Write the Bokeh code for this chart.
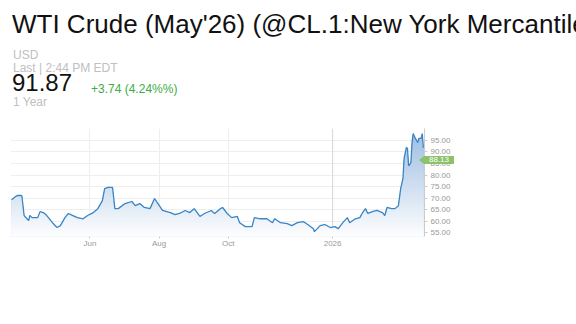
import numpy as np
import pandas as pd
from bokeh.plotting import figure
from bokeh.layouts import column
from bokeh.models import Range1d, FixedTicker, NumeralTickFormatter, Span, Div
from bokeh.embed import file_html
from bokeh.resources import INLINE

# ---------------- data ----------------
title_text = "WTI Crude (May'26) (@CL.1:New York Mercantile Exchange)"
currency_text = "USD"
last_text = "Last | 2:44 PM EDT"
last_price_text = "91.87"
change_text = "+3.74 (4.24%%)"
period_text = "1 Year"

dates = [
    "2025-03-24", "2025-03-27", "2025-03-29", "2025-04-01", "2025-04-02", "2025-04-04",
    "2025-04-08", "2025-04-09", "2025-04-11", "2025-04-16", "2025-04-18", "2025-04-21",
    "2025-04-24", "2025-04-29", "2025-05-03", "2025-05-06", "2025-05-10", "2025-05-13",
    "2025-05-17", "2025-05-21", "2025-05-26", "2025-05-30", "2025-06-04", "2025-06-08",
    "2025-06-12", "2025-06-14", "2025-06-17", "2025-06-21", "2025-06-23", "2025-06-26",
    "2025-07-02", "2025-07-08", "2025-07-11", "2025-07-15", "2025-07-19", "2025-07-24",
    "2025-07-28", "2025-07-31", "2025-08-04", "2025-08-11", "2025-08-15", "2025-08-19",
    "2025-08-24", "2025-08-28", "2025-09-01", "2025-09-06", "2025-09-10", "2025-09-16",
    "2025-09-19", "2025-09-24", "2025-09-26", "2025-09-30", "2025-10-04", "2025-10-09",
    "2025-10-11", "2025-10-16", "2025-10-22", "2025-10-24", "2025-10-29", "2025-11-04",
    "2025-11-09", "2025-11-11", "2025-11-16", "2025-11-22", "2025-11-26", "2025-12-01",
    "2025-12-06", "2025-12-10", "2025-12-15", "2025-12-16", "2025-12-21", "2025-12-25",
    "2025-12-30", "2026-01-03", "2026-01-06", "2026-01-10", "2026-01-14", "2026-01-16",
    "2026-01-21", "2026-01-25", "2026-01-27", "2026-01-30", "2026-02-01", "2026-02-05",
    "2026-02-09", "2026-02-14", "2026-02-16", "2026-02-18", "2026-02-22", "2026-02-25",
    "2026-02-28", "2026-03-02", "2026-03-04", "2026-03-05", "2026-03-07", "2026-03-08",
    "2026-03-09", "2026-03-11", "2026-03-12", "2026-03-13", "2026-03-15", "2026-03-17",
    "2026-03-18", "2026-03-20", "2026-03-21", "2026-03-22",
]
prices = [
    69.3, 70.5, 71.1, 71.2, 71.0, 62.4,
    60.2, 62.4, 61.5, 61.5, 64.1, 63.7,
    62.4, 59.3, 57.2, 58.0, 61.5, 63.3,
    62.4, 61.5, 61.0, 62.4, 63.7, 65.4,
    68.9, 74.1, 74.6, 74.6, 65.4, 65.4,
    67.6, 68.5, 66.7, 67.6, 65.9, 65.4,
    69.8, 67.6, 64.6, 63.7, 62.8, 63.3,
    64.6, 63.7, 65.4, 62.0, 63.3, 64.6,
    63.3, 65.4, 65.9, 63.3, 61.5, 62.0,
    59.3, 57.6, 57.6, 61.5, 61.0, 61.0,
    59.3, 61.0, 59.3, 58.9, 58.0, 59.3,
    59.8, 58.5, 56.7, 55.4, 58.0, 58.5,
    57.2, 57.6, 56.7, 59.3, 61.5, 59.3,
    61.0, 61.5, 63.3, 65.4, 63.3, 64.1,
    64.6, 63.7, 62.4, 65.9, 65.4, 65.4,
    66.7, 74.1, 78.5, 87.2, 92.0, 91.5,
    84.0, 85.4, 94.1, 98.0, 95.9, 94.1,
    95.9, 95.9, 98.0, 91.87,
]
prev_close = 88.13
prev_close_text = "88.13"

price_ticks = [55, 60, 65, 70, 75, 80, 85, 90, 95]
date_tick_dates = ["2025-06-01", "2025-08-01", "2025-10-01", "2026-01-01"]
date_tick_labels = ["Jun", "Aug", "Oct", "2026"]

x_start, x_end = "2025-03-23", "2026-03-23"
y_min, y_max = 53.3, 100.2

FONT = "Liberation Sans"
HEADER_H = 120
CHART_H = 204
BORDER_TOP = 8
BORDER_BOTTOM = 88
BORDER_LEFT = 10
BORDER_RIGHT = 152

# ---------------- header (HTML text) ----------------
def span(left, top, size, color, s):
    return (f'<span style="position:absolute;left:{left}px;top:{top}px;font-size:{size}px;'
            f'line-height:{size}px;color:{color};white-space:nowrap;">{s}</span>')

header_html = (
    f'<div style="position:relative;width:576px;height:{HEADER_H}px;overflow:hidden;'
    f'font-family:\'{FONT}\',Arial,sans-serif;">'
    + span(12, 11, 26, "#111111", title_text)
    + span(13, 49, 12, "#c0c0c0", currency_text)
    + span(13, 62, 12, "#c0c0c0", last_text)
    + span(12, 71, 24, "#111111", last_price_text)
    + span(91, 83, 12, "#3cab4a", change_text)
    + span(13, 95.5, 12, "#c0c0c0", period_text)
    + '</div>'
)
header = Div(text=header_html, width=576, height=HEADER_H, margin=0)

# ---------------- chart ----------------
xd = pd.to_datetime(dates)
yp = np.array(prices)

p = figure(width=576, height=CHART_H, x_axis_type="datetime",
           x_range=Range1d(pd.Timestamp(x_start), pd.Timestamp(x_end)),
           y_range=Range1d(y_min, y_max), y_axis_location="right",
           toolbar_location=None, output_backend="svg", margin=0,
           min_border_left=BORDER_LEFT, min_border_right=BORDER_RIGHT,
           min_border_top=BORDER_TOP, min_border_bottom=BORDER_BOTTOM)
p.outline_line_color = None

tick_ms = [float(pd.Timestamp(d).value // 10**6) for d in date_tick_dates]
p.xaxis.ticker = FixedTicker(ticks=tick_ms)
p.xaxis.major_label_overrides = {t: l for t, l in zip(tick_ms, date_tick_labels)}
p.yaxis.ticker = FixedTicker(ticks=price_ticks)
p.yaxis.formatter = NumeralTickFormatter(format="0.00")

p.xgrid.grid_line_color = "#eeeeee"
p.ygrid.grid_line_color = "#eeeeee"
p.add_layout(Span(location=tick_ms[3], dimension="height", line_color="#d9d9d9",
                  line_width=1, level="underlay"))

for ax in (p.xaxis, p.yaxis):
    ax.major_label_text_font = FONT
    ax.major_label_text_font_size = "8px"
    ax.major_label_text_color = "#999999"
    ax.major_tick_line_color = "#cccccc"
    ax.major_tick_in = 0
    ax.minor_tick_line_color = None
p.yaxis.axis_line_color = "#cccccc"
p.yaxis.major_tick_out = 3
p.yaxis.major_label_standoff = 3
p.xaxis.axis_line_color = None
p.xaxis.major_tick_out = 2
p.xaxis.major_label_standoff = 0

# vertical gradient fill under the line (bands drawn top-down)
top_rgb = np.array([160, 192, 226])
levels = np.linspace(y_max, y_min, 40)
for b in levels:
    t = min(max((b - y_min) / (98.0 - y_min), 0.0), 1.0)
    rgb = (255 + t * (top_rgb - 255)).astype(int)
    col = "#%02x%02x%02x" % tuple(rgb)
    p.varea(x=xd, y1=np.full(len(yp), y_min), y2=np.minimum(yp, b), fill_color=col)

p.line(xd, yp, line_color="#3a85c6", line_width=1.3)

# previous-close tag (HTML overlay placed at the price's position on the y scale)
frame_h = CHART_H - BORDER_TOP - BORDER_BOTTOM
tag_h = 8
tag_center = HEADER_H + BORDER_TOP + (y_max - prev_close) / (y_max - y_min) * frame_h
tag_top = int(round(tag_center - tag_h / 2))
tag_left = 576 - BORDER_RIGHT - 5
tag_html = (
    f'<div style="position:relative;width:35px;height:{tag_h}px;">'
    f'<div style="position:absolute;left:0;top:0;width:0;height:0;'
    f'border-top:{tag_h // 2}px solid transparent;border-bottom:{tag_h // 2}px solid transparent;'
    f'border-right:5px solid #8cc26c;"></div>'
    f'<div style="position:absolute;left:5px;top:0;width:30px;height:{tag_h}px;background:#8cc26c;'
    f'color:#ffffff;font-family:\'{FONT}\',Arial,sans-serif;font-size:8px;line-height:{tag_h}px;'
    f'text-align:center;">{prev_close_text}</div></div>'
)
tag = Div(text=tag_html, width=35, height=tag_h,
          margin=(tag_top - (HEADER_H + CHART_H), 0, 0, tag_left))

layout = column(header, p, tag, spacing=0)
open("out.html", "w").write(file_html(layout, INLINE))
